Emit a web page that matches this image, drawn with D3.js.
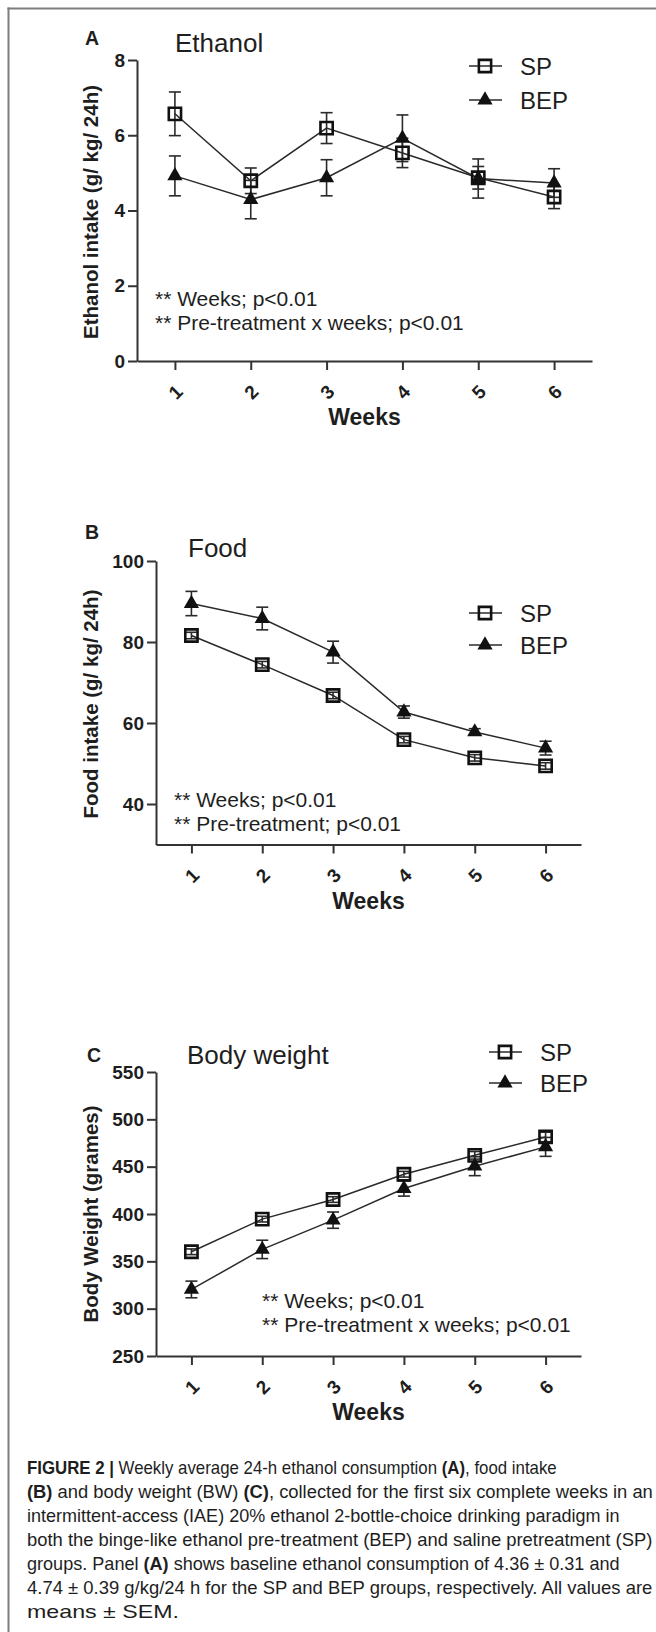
<!DOCTYPE html>
<html><head><meta charset="utf-8">
<script src="https://cdn.jsdelivr.net/npm/d3@7"></script>
<style>
body{margin:0;background:#fff;}
svg{display:block;font-family:"Liberation Sans",Arial,sans-serif;}
</style></head><body>
<svg id="fig" width="656" height="1632"></svg>
<script>
// ---------------- DATA ----------------
const weeks = [1, 2, 3, 4, 5, 6];
const weekLabels = ["1", "2", "3", "4", "5", "6"];
const seriesNames = ["SP", "BEP"];

const ethanolSP     = [6.57, 4.79, 6.19, 5.53, 4.87, 4.36];
const ethanolSPErr  = [0.58, 0.34, 0.41, 0.39, 0.30, 0.31];
const ethanolBEP    = [4.92, 4.29, 4.87, 5.92, 4.85, 4.73];
const ethanolBEPErr = [0.53, 0.51, 0.48, 0.62, 0.52, 0.38];
const ethanolTicks  = [0, 2, 4, 6, 8];

const foodSP     = [81.6, 74.4, 66.8, 55.9, 51.4, 49.4];
const foodSPErr  = [0.8, 0.8, 0.8, 0.8, 0.8, 0.8];
const foodBEP    = [89.5, 85.8, 77.5, 62.7, 57.8, 53.8];
const foodBEPErr = [3.0, 2.8, 2.7, 1.5, 0.8, 1.7];
const foodTicks  = [40, 60, 80, 100];

const bwSP     = [360.1, 394.6, 415.3, 442.0, 462.0, 481.4];
const bwSPErr  = [3, 3, 3, 3, 4, 5];
const bwBEP    = [320.3, 362.6, 393.5, 426.9, 450.5, 470.9];
const bwBEPErr = [8.8, 9.7, 8.6, 8.0, 10.0, 10.0];
const bwTicks  = [250, 300, 350, 400, 450, 500, 550];

const panelLetters = ["A", "B", "C"];
const panelTitles  = ["Ethanol", "Food", "Body weight"];
const yAxisTitles  = ["Ethanol intake (g/ kg/ 24h)", "Food intake (g/ kg/ 24h)", "Body Weight (grames)"];
const xAxisTitle   = "Weeks";
const panelNotes = [
  ["** Weeks; p<0.01", "** Pre-treatment x weeks; p<0.01"],
  ["** Weeks; p<0.01", "** Pre-treatment; p<0.01"],
  ["** Weeks; p<0.01", "** Pre-treatment x weeks; p<0.01"]
];

const captionLines = [
  [["FIGURE 2 | ", 1], ["Weekly average 24-h ethanol consumption ", 0], ["(A)", 1], [", food intake", 0]],
  [["(B)", 1], [" and body weight (BW) ", 0], ["(C)", 1], [", collected for the first six complete weeks in an", 0]],
  [["intermittent-access (IAE) 20% ethanol 2-bottle-choice drinking paradigm in", 0]],
  [["both the binge-like ethanol pre-treatment (BEP) and saline pretreatment (SP)", 0]],
  [["groups. Panel ", 0], ["(A)", 1], [" shows baseline ethanol consumption of 4.36 \u00B1 0.31 and", 0]],
  [["4.74 \u00B1 0.39 g/kg/24 h for the SP and BEP groups, respectively. All values are", 0]],
  [["means \u00B1 SEM.", 0]]
];

// ---------------- LAYOUT ----------------
const layout = [
  {sp: ethanolSP, spErr: ethanolSPErr, bep: ethanolBEP, bepErr: ethanolBEPErr, ticks: ethanolTicks,
   yDomain: [0, 8], left: 137, right: 592, top: 60, bottom: 361,
   letterX: 85, letterY: 45, titleX: 175, titleY: 52, yTitleCY: 212,
   noteX: 155, noteY: 306, legX: 485, legY: 66, legGap: 34},
  {sp: foodSP, spErr: foodSPErr, bep: foodBEP, bepErr: foodBEPErr, ticks: foodTicks,
   yDomain: [30, 100], left: 156, right: 581, top: 561, bottom: 844.5,
   letterX: 85, letterY: 539, titleX: 188, titleY: 557, yTitleCY: 704,
   noteX: 174, noteY: 807, legX: 485, legY: 613, legGap: 32},
  {sp: bwSP, spErr: bwSPErr, bep: bwBEP, bepErr: bwBEPErr, ticks: bwTicks,
   yDomain: [250, 550], left: 156, right: 581, top: 1072, bottom: 1356,
   letterX: 87, letterY: 1062, titleX: 187, titleY: 1064, yTitleCY: 1214,
   noteX: 262, noteY: 1308, legX: 505, legY: 1052, legGap: 31}
];
const captionX = 27, captionY0 = 1474, captionLH = 24;
const captionWidths = [530, 626, 593, 626, 593, 626, 152];

const INK = "#1e1e1e";
const AX = "#333";
const svg = d3.select("#fig");

// frame
svg.append("line").attr("x1", 7.5).attr("x2", 656).attr("y1", 8.5).attr("y2", 8.5)
  .attr("stroke", "#7d7d7d").attr("stroke-width", 2);
svg.append("line").attr("x1", 8.5).attr("x2", 8.5).attr("y1", 7.5).attr("y2", 1632)
  .attr("stroke", "#7d7d7d").attr("stroke-width", 2);

const sqSym = d3.symbol().type(d3.symbolSquare).size(150);
const triSym = d3.symbol().type(d3.symbolTriangle).size(100);

function drawPanel(p, i) {
  const g = svg.append("g");
  const x = d3.scaleLinear().domain([weeks[0] - 0.5, weeks[weeks.length - 1] + 0.5]).range([p.left, p.right]);
  const y = d3.scaleLinear().domain(p.yDomain).range([p.bottom, p.top]);

  const ya = g.append("g").attr("transform", `translate(${p.left},0)`)
    .call(d3.axisLeft(y).tickValues(p.ticks).tickSize(9).tickPadding(3).tickSizeOuter(0));
  const xa = g.append("g").attr("transform", `translate(0,${p.bottom})`)
    .call(d3.axisBottom(x).tickValues(weeks).tickFormat((d, k) => weekLabels[k]).tickSize(9).tickSizeOuter(0));
  [ya, xa].forEach(a => {
    a.select(".domain").attr("stroke", AX).attr("stroke-width", 2);
    a.selectAll(".tick line").attr("stroke", AX).attr("stroke-width", 2);
    a.selectAll("text").attr("fill", INK).attr("font-size", 19).attr("font-weight", "bold")
      .attr("font-family", '"Liberation Sans",Arial,sans-serif');
  });
  xa.selectAll(".tick text").attr("y", 0).attr("dy", "0.36em").attr("text-anchor", "middle")
    .attr("transform", "translate(0,31) rotate(-45)");

  g.append("text").attr("x", (x(weeks[0]) + x(weeks[5])) / 2).attr("y", p.bottom + 64)
    .attr("text-anchor", "middle").attr("font-weight", "bold").attr("font-size", 23).attr("fill", INK)
    .text(xAxisTitle);
  g.append("text").attr("transform", `translate(98,${p.yTitleCY}) rotate(-90)`)
    .attr("text-anchor", "middle").attr("font-weight", "bold").attr("font-size", 20.5).attr("fill", INK)
    .text(yAxisTitles[i]);

  g.append("text").attr("x", p.letterX).attr("y", p.letterY).attr("font-weight", "bold")
    .attr("font-size", 19.5).attr("fill", INK).text(panelLetters[i]);
  g.append("text").attr("x", p.titleX).attr("y", p.titleY).attr("font-size", 26).attr("fill", INK)
    .text(panelTitles[i]);

  panelNotes[i].forEach((t, k) => {
    g.append("text").attr("x", p.noteX).attr("y", p.noteY + k * 24).attr("font-size", 21)
      .attr("fill", INK).text(t);
  });

  const series = [
    {name: seriesNames[0], v: p.sp, e: p.spErr, sym: sqSym, fill: "none"},
    {name: seriesNames[1], v: p.bep, e: p.bepErr, sym: triSym, fill: "#111"}
  ];
  const line = d3.line().x((d, k) => x(weeks[k])).y(d => y(d));
  series.forEach(s => {
    g.append("path").datum(s.v).attr("d", line).attr("fill", "none")
      .attr("stroke", "#2a2a2a").attr("stroke-width", 1.5);
  });
  series.forEach(s => {
    const eg = g.append("g").attr("stroke", "#2a2a2a").attr("stroke-width", 1.6);
    s.v.forEach((v, k) => {
      const cx = x(weeks[k]);
      eg.append("line").attr("x1", cx).attr("x2", cx).attr("y1", y(v - s.e[k])).attr("y2", y(v + s.e[k]));
      [v - s.e[k], v + s.e[k]].forEach(ev => {
        eg.append("line").attr("x1", cx - 6).attr("x2", cx + 6).attr("y1", y(ev)).attr("y2", y(ev));
      });
    });
  });
  series.forEach(s => {
    g.append("g").selectAll("path").data(s.v).join("path")
      .attr("d", s.sym)
      .attr("transform", (d, k) => `translate(${x(weeks[k])},${y(d)})`)
      .attr("fill", s.fill)
      .attr("stroke", s.fill === "none" ? "#111" : "none")
      .attr("stroke-width", 2.6);
  });

  series.forEach((s, k) => {
    const ly = p.legY + k * p.legGap;
    g.append("line").attr("x1", p.legX - 16).attr("x2", p.legX + 17).attr("y1", ly).attr("y2", ly)
      .attr("stroke", "#2a2a2a").attr("stroke-width", 1.5);
    g.append("path").attr("d", s.sym).attr("transform", `translate(${p.legX},${ly})`)
      .attr("fill", s.fill).attr("stroke", s.fill === "none" ? "#111" : "none").attr("stroke-width", 2.6);
    g.append("text").attr("x", p.legX + 35).attr("y", ly + 8.5).attr("font-size", 24)
      .attr("fill", INK).text(s.name);
  });
}
layout.forEach(drawPanel);

// caption
captionLines.forEach((parts, k) => {
  const yy = captionY0 + k * captionLH;
  const t = svg.append("text").attr("x", captionX).attr("y", yy).attr("font-size", 17.5).attr("fill", INK);
  parts.forEach(([txt, b]) => {
    t.append("tspan").attr("font-weight", b ? "bold" : "normal").text(txt);
  });
  const w = t.node().getComputedTextLength();
  const sx = captionWidths[k] / w;
  t.attr("transform", `translate(${captionX},0) scale(${sx},1) translate(${-captionX},0)`);
});
</script>
</body></html>
